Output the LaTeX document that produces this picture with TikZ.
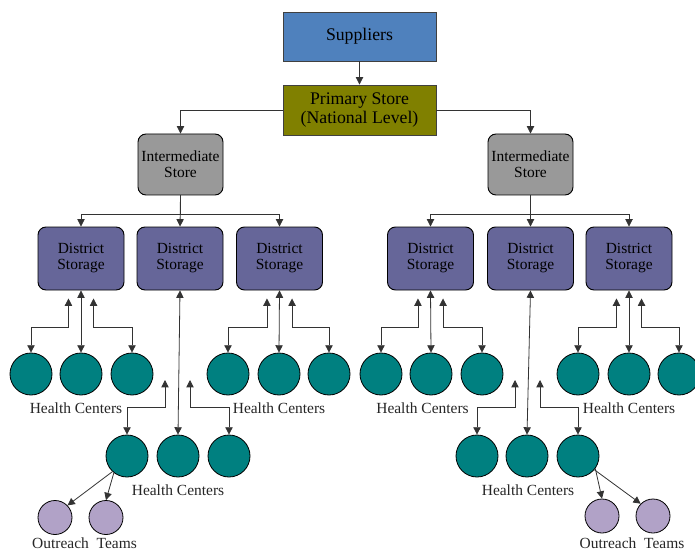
\documentclass[tikz,border=0pt]{standalone}
\usepackage{fontspec}
\setmainfont{Liberation Serif}
\usepackage{tikz}
\usetikzlibrary{arrows.meta,positioning}

\definecolor{supblue}{RGB}{79,129,189}
\definecolor{primolive}{RGB}{128,128,0}
\definecolor{intgray}{RGB}{153,153,153}
\definecolor{distpurple}{RGB}{102,102,153}
\definecolor{hcteal}{RGB}{0,128,128}
\definecolor{otlilac}{RGB}{177,162,199}

\tikzset{
  >={Triangle[length=5.5pt,width=5.5pt]},
  topbox/.style={draw=black!75, line width=0.7pt, align=center, inner sep=1pt,
    minimum width=114.75pt, font=\fontsize{13.3}{14.25}\selectfont},
  interbox/.style={draw=black, line width=0.7pt, fill=intgray, rounded corners=6pt,
    align=center, inner sep=0pt, minimum width=63.75pt, minimum height=45.75pt,
    font=\fontsize{11.6}{12}\selectfont},
  distbox/.style={interbox, fill=distpurple, minimum width=64.5pt, minimum height=47.25pt},
  hcentre/.style={circle, draw=black, line width=0.6pt, fill=hcteal, minimum size=31.5pt, inner sep=0pt},
  outreach/.style={circle, draw=black, line width=0.6pt, fill=otlilac, minimum size=25.5pt, inner sep=0pt},
  lbl/.style={inner sep=0pt, text=black!85, font=\fontsize{11.6}{12}\selectfont},
  conn/.style={draw=black!80, line width=0.6pt}
}

\begin{document}
\begin{tikzpicture}[x=0.75pt,y=-0.75pt]
\useasboundingbox (0,0) rectangle (695,552);

% Top levels
\node[topbox, fill=supblue, minimum height=36.75pt] (sup) at (359.5,36.5) {Suppliers};
\node[topbox, fill=primolive, minimum height=37.5pt] (prim) at (359.5,110) {Primary Store\\(National Level)};
\node[interbox] (intL) at (180.5,164.5) {Intermediate\\Store};
\node[interbox] (intR) at (530.5,164.5) {Intermediate\\Store};

% District storage
\foreach \n/\x in {dA/81,dB/180,dC/279.5,dD/430.5,dE/530.5,dF/629}
  \node[distbox] (\n) at (\x,258.5) {District\\Storage};

% Health centers, first row
\foreach \n/\x in {hA1/31,hA2/81,hA3/132,hC1/228,hC2/279,hC3/329,
                   hD1/381,hD2/431,hD3/482,hF1/578,hF2/629,hF3/679}
  \node[hcentre] (\n) at (\x,374) {};

% Health centers, second row
\foreach \n/\x in {hB1/127,hB2/178,hB3/229,hE1/477,hE2/527,hE3/578}
  \node[hcentre] (\n) at (\x,456) {};

% Outreach teams
\node[outreach] (oA1) at (55,517.5) {};
\node[outreach] (oA2) at (106,517.5) {};
\node[outreach] (oB1) at (602,516) {};
\node[outreach] (oB2) at (653,516) {};

% Labels
\node[lbl] (lA) at (76,408) {Health Centers};
\node[lbl] (lC) at (279,408) {Health Centers};
\node[lbl] (lD) at (422.5,408) {Health Centers};
\node[lbl] (lF) at (629,408) {Health Centers};
\node[lbl] (lB) at (178,490) {Health Centers};
\node[lbl] (lE) at (528,490) {Health Centers};
\node[lbl] (lOA) at (84.5,543.5) {Outreach\ \ Teams};
\node[lbl] (lOB) at (632,543.5) {Outreach\ \ Teams};

% Supply chain
\draw[conn,->] (sup) -- (prim);
\draw[conn,->] (prim.west) -| (intL.north);
\draw[conn,->] (prim.east) -| (intR.north);

\foreach \i/\a/\b/\c in {intL/dA/dB/dC, intR/dD/dE/dF}{
  \draw[conn,->] (\i.south) -- (\b.north);
  \draw[conn,->] (\i.south) -- ++(0,19) -| (\a.north);
  \draw[conn,->] (\i.south) -- ++(0,19) -| (\c.north);
}

% District to health centers
\foreach \d/\l/\m/\r in {dA/hA1/hA2/hA3, dC/hC1/hC2/hC3, dD/hD1/hD2/hD3, dF/hF1/hF2/hF3}{
  \coordinate (\d l) at ([xshift=-9.4pt,yshift=-6pt]\d.south);
  \coordinate (\d r) at ([xshift=9.4pt,yshift=-6pt]\d.south);
  \draw[conn,<->] (\d.south) -- (\m.north);
  \draw[conn,<->] (\d l) -- ++(0,29) -| (\l.north);
  \draw[conn,<->] (\d r) -- ++(0,29) -| (\r.north);
}

\foreach \d/\l/\m/\r/\x in {dB/hB1/hB2/hB3/178, dE/hE1/hE2/hE3/528}{
  \coordinate (\d l) at (\x-13,380);
  \coordinate (\d r) at (\x+12,380);
  \draw[conn,<->] (\d.south) -- (\m.north);
  \draw[conn,<->] (\d l) -- ++(0,27) -| (\l.north);
  \draw[conn,<->] (\d r) -- ++(0,27) -| (\r.north);
}

% Outreach
\draw[conn,->] (hB1.-133) -- (oA1.44);
\draw[conn,->] (hB1.-128) -- (oA2.north);
\draw[conn,->] (hE3.-36) -- (oB1.north);
\draw[conn,->] (hE3.-40) -- (oB2.135);

\end{tikzpicture}
\end{document}
